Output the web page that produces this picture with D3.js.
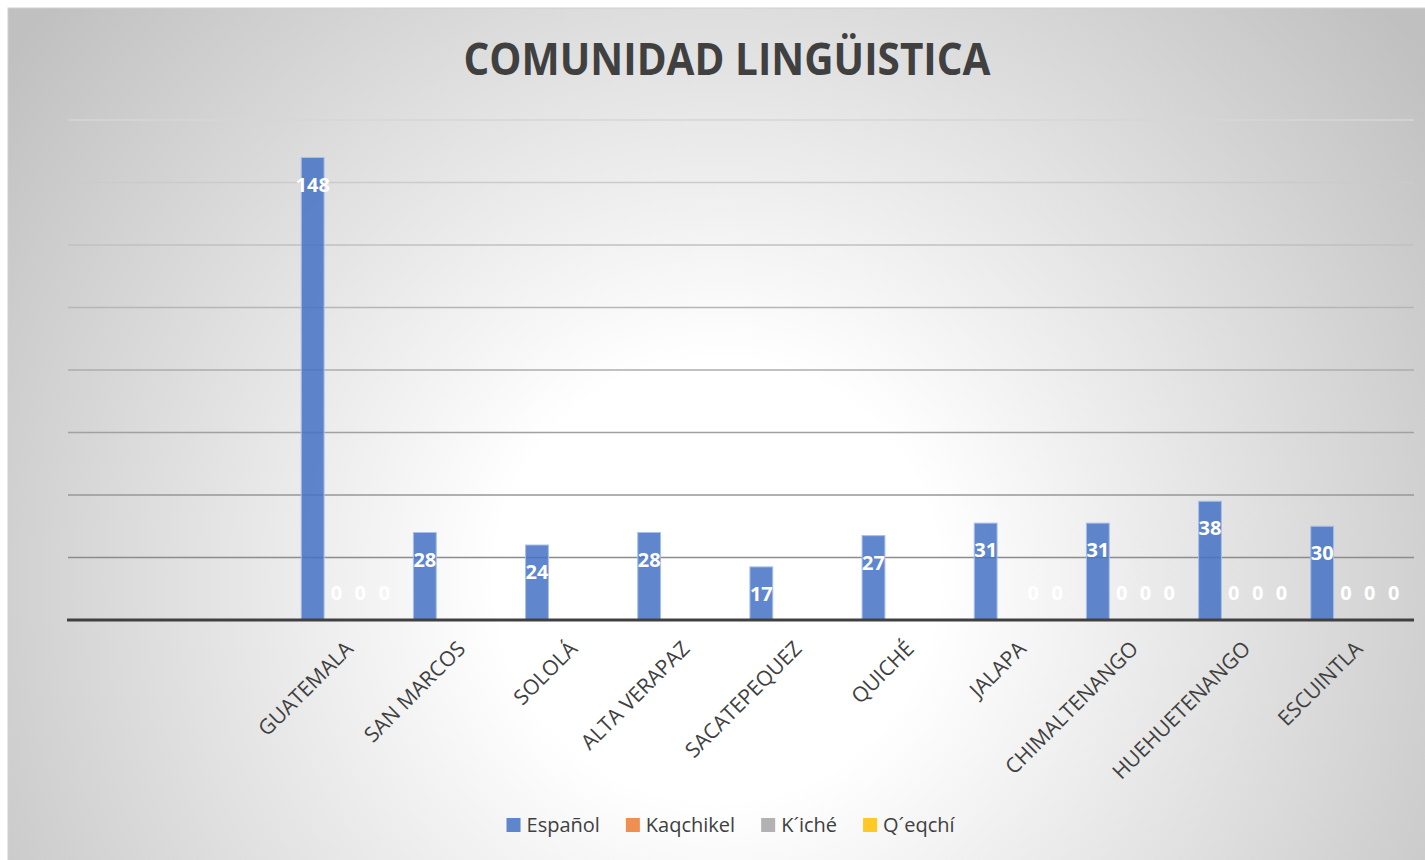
<!DOCTYPE html>
<html>
<head>
<meta charset="utf-8">
<script src="https://cdn.jsdelivr.net/npm/d3@7"></script>
<style>
  html, body { margin: 0; padding: 0; background: #ffffff; }
  svg { display: block; }
  text { font-family: "Open Sans", "DejaVu Sans", sans-serif; }
</style>
</head>
<body>
<div id="chart"></div>
<script>

// datos
var categories = ["", "", "GUATEMALA", "SAN MARCOS", "SOLOLÁ", "ALTA VERAPAZ", "SACATEPEQUEZ", "QUICHÉ", "JALAPA", "CHIMALTENANGO", "HUEHUETENANGO", "ESCUINTLA"];
var seriesNames = ["Español", "Kaqchikel", "K´iché", "Q´eqchí"];
var espanol   = [null, null, 148, 28, 24, 28, 17, 27, 31, 31, 38, 30];
var kaqchikel = [null, null, 0, null, null, null, null, null, null, 0, 0, 0];
var kiche     = [null, null, 0, null, null, null, null, null, 0, 0, 0, 0];
var qeqchi    = [null, null, 0, null, null, null, null, null, 0, 0, 0, 0];
var yTicks = [0, 20, 40, 60, 80, 100, 120, 140, 160];
var colors = ["#4472C4", "#ED7D31", "#A5A5A5", "#FFC000"];

var seriesValues = [espanol, kaqchikel, kiche, qeqchi];

var W = 1425, H = 860;
var svg = d3.select("#chart")
            .append("svg")
            .attr("width", W)
            .attr("height", H);

// fondo con degradado radial
var defs = svg.append("defs");
var grad = defs.append("radialGradient")
    .attr("id", "bg")
    .attr("gradientUnits", "userSpaceOnUse")
    .attr("cx", 717).attr("cy", 580).attr("r", 880)
    .attr("fx", 717).attr("fy", 580);
grad.append("stop").attr("offset", "0").attr("stop-color", "#ffffff");
grad.append("stop").attr("offset", "0.25").attr("stop-color", "#ffffff");
grad.append("stop").attr("offset", "1").attr("stop-color", "#c0c0c0");

svg.append("rect")
    .attr("x", 8).attr("y", 8)
    .attr("width", W).attr("height", H)
    .attr("fill", "url(#bg)")
    .attr("stroke", "#d0d0d0")
    .attr("stroke-width", 1);

var margin = {top: 120, left: 68, right: 11, bottom: 240};
var plotRight = W - margin.right, plotBottom = H - margin.bottom;

var x0 = d3.scaleBand()
    .domain(d3.range(categories.length))
    .range([margin.left, plotRight])
    .paddingInner(0.15)
    .paddingOuter(0.075);

var x1 = d3.scaleBand()
    .domain(d3.range(seriesNames.length))
    .range([0, x0.bandwidth()]);

var y = d3.scaleLinear()
    .domain([0, 160])
    .range([plotBottom, margin.top]);

var gridColor = d3.scaleLinear().domain([160, 20]).range(["#d6d6d6", "#8c8c8c"]);

// líneas de cuadrícula
svg.append("g")
    .attr("class", "grid")
    .selectAll("line")
    .data(yTicks.filter(function(d) { return d > 0; }))
    .enter()
    .append("line")
      .attr("x1", margin.left)
      .attr("x2", plotRight)
      .attr("y1", function(d) { return y(d); })
      .attr("y2", function(d) { return y(d); })
      .attr("stroke", function(d) { return gridColor(d); })
      .attr("stroke-width", 1.5);

// barras
var groups = svg.selectAll(".cat")
    .data(d3.range(categories.length))
    .enter()
    .append("g")
    .attr("class", "cat")
    .attr("transform", function(i) { return "translate(" + x0(i) + ",0)"; });

var cells = groups.selectAll("g.cell")
    .data(function(i) {
      return seriesValues.map(function(s, k) { return {k: k, v: s[i]}; })
        .filter(function(d) { return d.v !== null; });
    })
    .enter()
    .append("g")
    .attr("class", "cell");

cells.filter(function(d) { return d.v > 0; })
    .append("rect")
      .attr("x", function(d) { return x1(d.k) + 0.5; })
      .attr("y", function(d) { return y(d.v); })
      .attr("width", x1.bandwidth() - 1)
      .attr("height", function(d) { return y(0) - y(d.v); })
      .attr("fill", function(d) { return colors[d.k]; })
      .attr("fill-opacity", 0.85)
      .attr("stroke", "#a8bfe8")
      .attr("stroke-width", 1);

cells.append("text")
    .attr("x", function(d) { return x1(d.k) + x1.bandwidth() / 2; })
    .attr("y", function(d) { return d.v > 0 ? y(d.v) + 27 : y(0) - 27; })
    .attr("dy", "0.36em")
    .attr("text-anchor", "middle")
    .attr("fill", "#ffffff")
    .attr("font-size", "20px")
    .attr("font-weight", "bold")
    .text(function(d) { return d.v; });

// eje X
svg.append("line")
    .attr("x1", margin.left - 1)
    .attr("x2", plotRight)
    .attr("y1", y(0))
    .attr("y2", y(0))
    .attr("stroke", "#404040")
    .attr("stroke-width", 3);

svg.append("g")
    .attr("class", "xlabels")
    .selectAll("text")
    .data(d3.range(categories.length))
    .enter()
    .append("text")
      .attr("transform", function(i) {
        return "translate(" + (x0(i) + x0.bandwidth() / 2 + 6) + "," + (y(0) + 30) + ") rotate(-45)";
      })
      .attr("text-anchor", "end")
      .attr("fill", "#404040")
      .attr("font-size", "21px")
      .text(function(i) { return categories[i]; });

// título
var title = svg.append("text")
    .attr("x", 727)
    .attr("y", 75)
    .attr("text-anchor", "middle")
    .attr("fill", "#404040")
    .attr("font-size", "44px")
    .attr("font-weight", "bold")
    .text("COMUNIDAD LINGÜISTICA");
var tw = title.node().getComputedTextLength();
if (tw > 527) title.attr("textLength", 527).attr("lengthAdjust", "spacingAndGlyphs");

// leyenda
var legend = svg.append("g").attr("class", "legend");
var items = legend.selectAll("g")
    .data(seriesNames)
    .enter()
    .append("g");
items.append("rect")
    .attr("width", 14).attr("height", 14)
    .attr("y", -14)
    .attr("fill", function(d, i) { return colors[i]; })
    .attr("fill-opacity", 0.85);
items.append("text")
    .attr("x", 20)
    .attr("y", 0)
    .attr("fill", "#404040")
    .attr("font-size", "20px")
    .text(function(d) { return d; });

var cursor = 0;
items.each(function() {
  d3.select(this).attr("transform", "translate(" + cursor + ",0)");
  cursor += this.getBBox().width + 26;
});
var legendW = cursor - 26;
legend.attr("transform", "translate(" + (731 - legendW / 2) + ",832)");

</script>
</body>
</html>
